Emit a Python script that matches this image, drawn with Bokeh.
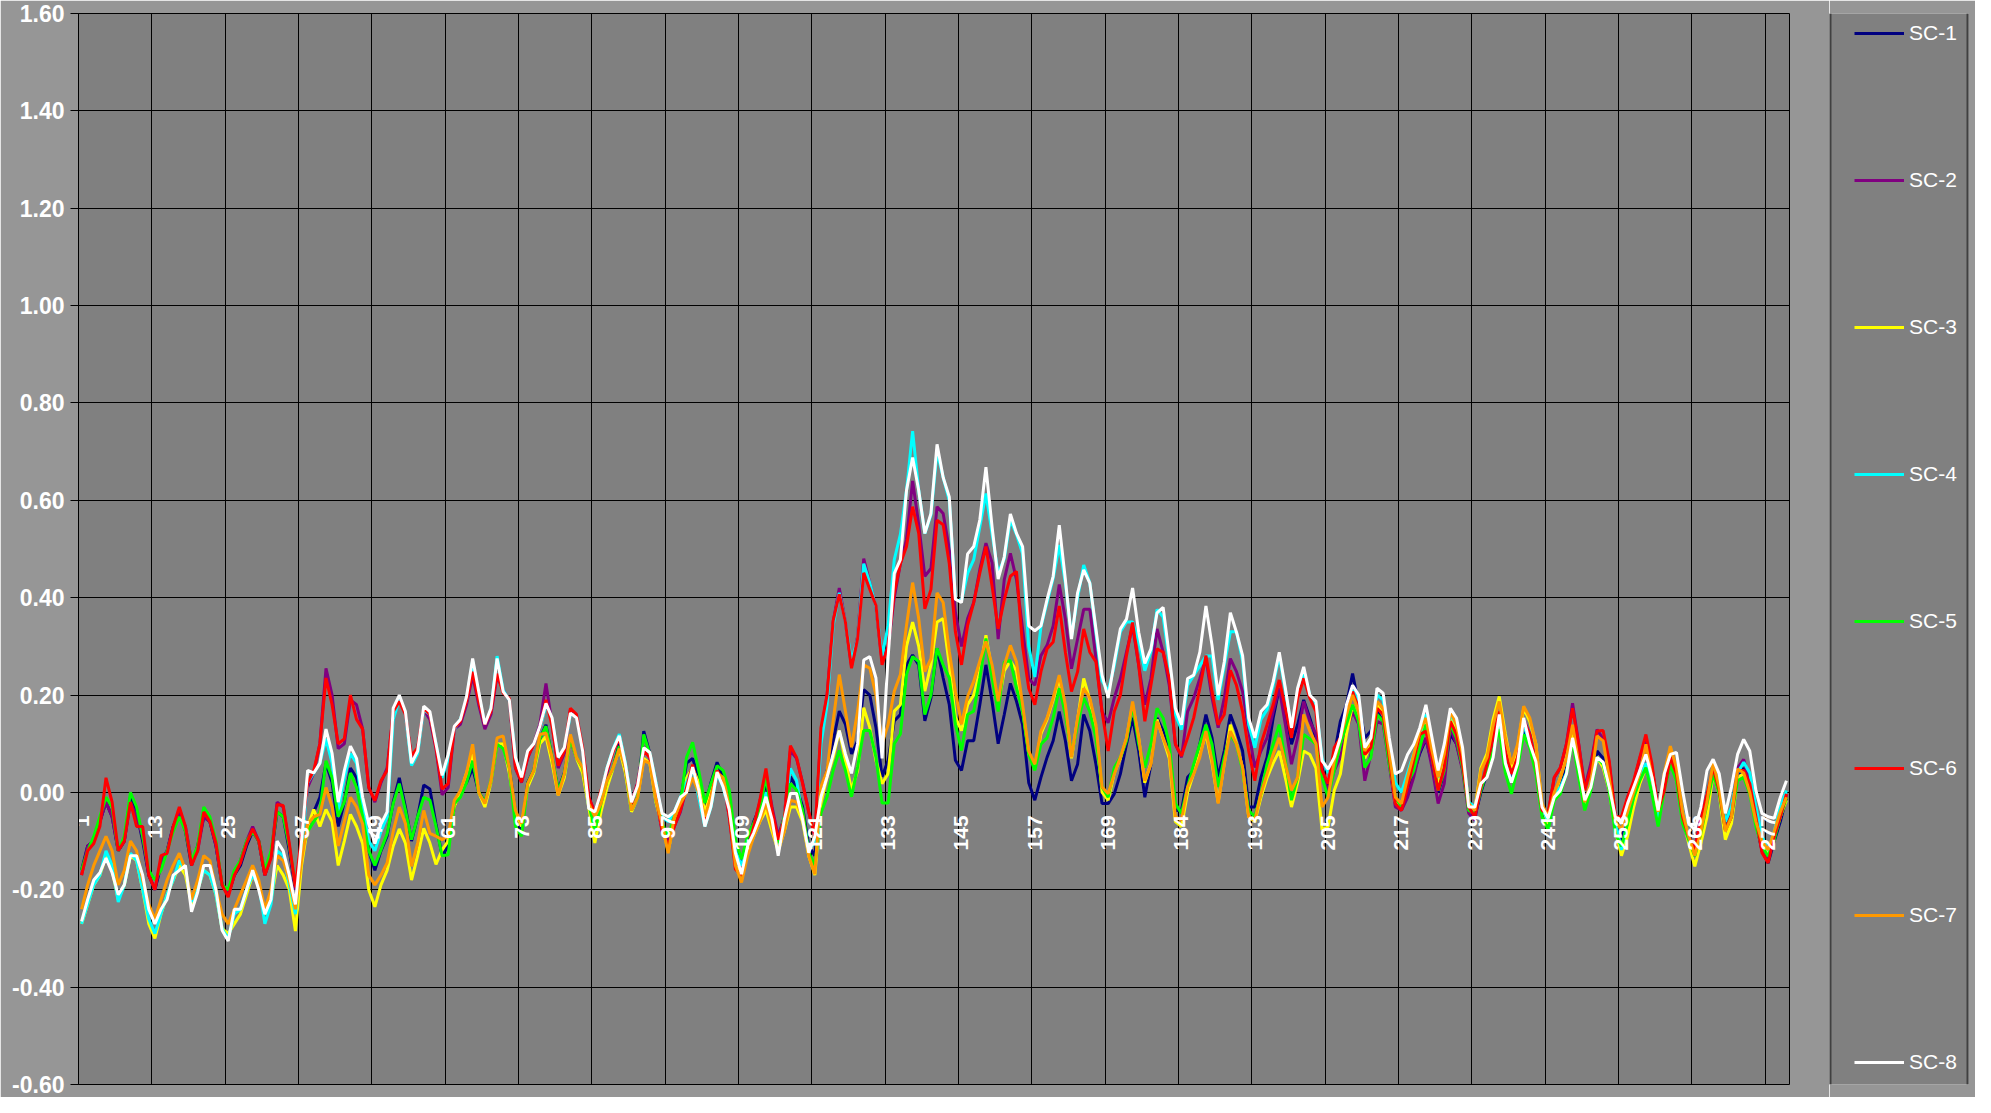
import math
from bokeh.plotting import figure
from bokeh.layouts import row
from bokeh.models import Range1d, FixedTicker, Grid, Legend, LegendItem, NumeralTickFormatter, Span
from bokeh.core.properties import value
from bokeh.embed import file_html
from bokeh.resources import INLINE

series_names = ["SC-1", "SC-2", "SC-3", "SC-4", "SC-5", "SC-6", "SC-7", "SC-8"]
series_colors = ["#000080", "#800080", "#FFFF00", "#00FFFF", "#00FF00", "#FF0000", "#FF9900", "#FFFFFF"]

tick_positions = [1, 13, 25, 37, 49, 61, 73, 85, 97, 109, 121, 133, 145, 157, 169, 181, 193, 205, 217, 229, 241, 253, 265, 277]
tick_labels = ["1", "13", "25", "37", "49", "61", "73", "85", "97", "109", "121", "133", "145", "157", "169", "184", "193", "205", "217", "229", "241", "253", "265", "277"]
y_ticks = [-0.6, -0.4, -0.2, 0.0, 0.2, 0.4, 0.6, 0.8, 1.0, 1.2, 1.4, 1.6]

sc1 = [
    -0.16, -0.11, -0.10, -0.06, -0.02, -0.05, -0.12, -0.10, -0.01, -0.04, -0.10, -0.17,
    -0.20, -0.15, -0.12, -0.07, -0.04, -0.08, -0.15, -0.11, -0.05, -0.06, -0.11, -0.19,
    -0.21, -0.17, -0.15, -0.11, -0.08, -0.10, -0.17, -0.13, -0.04, -0.05, -0.12, -0.20,
    -0.12, -0.07, -0.04, -0.01, 0.06, 0.02, -0.07, -0.02, 0.05, 0.03, -0.02, -0.12,
    -0.16, -0.12, -0.09, -0.02, 0.03, -0.03, -0.10, -0.05, 0.015, 0.007, -0.065, -0.13,
    -0.11, -0.03, 0.0, 0.02, 0.05, 0.0, -0.02, 0.02, 0.10, 0.10, 0.05, -0.04,
    -0.08, 0.02, 0.045, 0.11, 0.139, 0.07, 0.005, 0.04, 0.11, 0.07, 0.05, -0.02,
    -0.08, -0.02, 0.025, 0.05, 0.10, 0.05, -0.035, -0.01, 0.126, 0.08, -0.015, -0.065,
    -0.12, -0.05, -0.02, 0.06, 0.07, 0.03, -0.03, 0.02, 0.062, 0.03, -0.04, -0.12,
    -0.15, -0.10, -0.06, -0.03, 0.018, -0.04, -0.10, -0.05, 0.032, 0.01, -0.03, -0.11,
    -0.13, 0.005, 0.045, 0.106, 0.167, 0.14, 0.079, 0.106, 0.211, 0.20, 0.133, 0.032,
    0.066, 0.147, 0.16, 0.262, 0.282, 0.262, 0.147, 0.194, 0.296, 0.235, 0.18, 0.066,
    0.045, 0.106, 0.106, 0.18, 0.262, 0.187, 0.10, 0.16, 0.224, 0.187, 0.139, 0.02,
    -0.016, 0.031, 0.072, 0.106, 0.166, 0.106, 0.024, 0.058, 0.16, 0.126, 0.058, -0.023,
    -0.023, -0.003, 0.038, 0.099, 0.153, 0.085, -0.01, 0.058, 0.153, 0.126, 0.085, -0.037,
    -0.037, 0.031, 0.045, 0.099, 0.16, 0.112, 0.031, 0.085, 0.16, 0.126, 0.085, -0.03,
    -0.03, 0.031, 0.072, 0.153, 0.214, 0.166, 0.099, 0.139, 0.19, 0.153, 0.112, 0.051,
    0.004, 0.078, 0.146, 0.18, 0.244, 0.18, 0.112, 0.126, 0.166, 0.146, 0.072, -0.016,
    -0.03, 0.0, 0.04, 0.08, 0.11, 0.06, 0.0, 0.04, 0.12, 0.10, 0.05, -0.03,
    -0.05, 0.0, 0.04, 0.09, 0.14, 0.07, 0.03, 0.06, 0.13, 0.10, 0.05, -0.04,
    -0.06, 0.0, 0.02, 0.05, 0.12, 0.04, -0.02, 0.01, 0.085, 0.07, 0.01, -0.07,
    -0.097, -0.05, -0.01, 0.03, 0.06, 0.01, -0.05, 0.01, 0.06, 0.03, -0.05, -0.09,
    -0.12, -0.07, -0.01, 0.04, 0.01, -0.07, -0.05, 0.03, 0.05, 0.01, -0.06, -0.12,
    -0.145, -0.10, -0.06, -0.01,
]

sc2 = [
    -0.17, -0.11, -0.10, -0.06, -0.02, -0.05, -0.12, -0.10, -0.02, -0.05, -0.09, -0.17,
    -0.20, -0.14, -0.12, -0.07, -0.04, -0.07, -0.14, -0.12, -0.05, -0.06, -0.11, -0.19,
    -0.21, -0.17, -0.14, -0.10, -0.07, -0.10, -0.17, -0.13, -0.02, -0.03, -0.11, -0.20,
    -0.10, 0.01, 0.04, 0.10, 0.255, 0.20, 0.09, 0.10, 0.19, 0.18, 0.13, 0.01,
    -0.02, 0.02, 0.05, 0.16, 0.19, 0.16, 0.07, 0.09, 0.17, 0.15, 0.09, -0.005,
    0.01, 0.13, 0.14, 0.18, 0.24, 0.18, 0.13, 0.16, 0.24, 0.21, 0.19, 0.05,
    0.02, 0.07, 0.10, 0.14, 0.224, 0.14, 0.05, 0.08, 0.17, 0.16, 0.09, -0.01,
    -0.04, 0.00, 0.04, 0.09, 0.11, 0.05, -0.02, 0.02, 0.095, 0.07, -0.01, -0.08,
    -0.10, -0.07, -0.04, 0.01, 0.055, 0.0, -0.06, 0.0, 0.04, 0.02, -0.05, -0.15,
    -0.165, -0.12, -0.07, -0.02, 0.04, -0.03, -0.09, -0.05, 0.086, 0.07, 0.02, -0.04,
    -0.09, 0.12, 0.20, 0.35, 0.42, 0.35, 0.26, 0.32, 0.48, 0.43, 0.38, 0.27,
    0.30, 0.40, 0.47, 0.52, 0.64, 0.55, 0.444, 0.46, 0.587, 0.573, 0.50, 0.37,
    0.30, 0.357, 0.39, 0.458, 0.512, 0.472, 0.315, 0.437, 0.491, 0.437, 0.336, 0.234,
    0.22, 0.281, 0.302, 0.342, 0.427, 0.356, 0.254, 0.315, 0.376, 0.376, 0.275, 0.166,
    0.143, 0.194, 0.234, 0.288, 0.342, 0.261, 0.18, 0.234, 0.336, 0.288, 0.22, 0.099,
    0.072, 0.166, 0.194, 0.234, 0.275, 0.194, 0.133, 0.194, 0.275, 0.248, 0.207, 0.126,
    0.051, 0.085, 0.112, 0.166, 0.214, 0.139, 0.058, 0.112, 0.187, 0.146, 0.12, 0.038,
    0.004, 0.045, 0.072, 0.126, 0.166, 0.14, 0.024, 0.078, 0.146, 0.14, 0.058, -0.03,
    -0.037, -0.01, 0.031, 0.085, 0.112, 0.051, -0.023, 0.018, 0.133, 0.099, 0.045, -0.043,
    -0.057, 0.011, 0.05, 0.10, 0.16, 0.08, 0.035, 0.07, 0.15, 0.12, 0.055, -0.03,
    -0.045, 0.03, 0.05, 0.10, 0.183, 0.10, 0.01, 0.06, 0.129, 0.11, 0.06, -0.05,
    -0.06, -0.01, 0.02, 0.07, 0.11, 0.05, -0.03, 0.01, 0.07, 0.035, -0.05, -0.09,
    -0.115, -0.05, 0.0, 0.05, 0.01, -0.07, -0.04, 0.05, 0.068, 0.02, -0.05, -0.12,
    -0.138, -0.085, -0.05, -0.005,
]

sc3 = [
    -0.27, -0.23, -0.19, -0.17, -0.13, -0.16, -0.22, -0.19, -0.13, -0.14, -0.20, -0.27,
    -0.30, -0.25, -0.21, -0.18, -0.15, -0.17, -0.23, -0.20, -0.16, -0.17, -0.21, -0.28,
    -0.29, -0.27, -0.25, -0.21, -0.17, -0.19, -0.25, -0.22, -0.15, -0.17, -0.20, -0.285,
    -0.15, -0.07, -0.035, -0.07, -0.035, -0.06, -0.15, -0.10, -0.045, -0.07, -0.105, -0.20,
    -0.235, -0.19, -0.16, -0.11, -0.075, -0.104, -0.18, -0.13, -0.074, -0.104, -0.148, -0.118,
    -0.10, -0.03, 0.0, 0.04, 0.078, 0.0, -0.03, 0.02, 0.10, 0.10, 0.04, -0.04,
    -0.07, 0.01, 0.04, 0.10, 0.115, 0.06, -0.006, 0.03, 0.112, 0.07, 0.04, -0.03,
    -0.104, -0.04, 0.01, 0.05, 0.09, 0.04, -0.04, -0.01, 0.07, 0.06, -0.02, -0.07,
    -0.12, -0.06, -0.03, 0.03, 0.05, 0.02, -0.04, 0.0, 0.04, 0.03, -0.04, -0.15,
    -0.17, -0.12, -0.09, -0.06, -0.036, -0.08, -0.12, -0.08, -0.03, -0.03, -0.06, -0.13,
    -0.17, -0.022, 0.032, 0.072, 0.127, 0.066, 0.005, 0.045, 0.174, 0.133, 0.066, 0.018,
    0.039, 0.167, 0.18, 0.30, 0.35, 0.30, 0.208, 0.262, 0.35, 0.357, 0.262, 0.154,
    0.127, 0.18, 0.20, 0.248, 0.323, 0.248, 0.18, 0.25, 0.27, 0.25, 0.17, 0.08,
    0.05, 0.12, 0.15, 0.19, 0.234, 0.17, 0.07, 0.15, 0.234, 0.19, 0.13, 0.0,
    -0.016, 0.04, 0.07, 0.11, 0.18, 0.11, 0.02, 0.06, 0.15, 0.11, 0.07, -0.06,
    -0.07, 0.0, 0.04, 0.08, 0.12, 0.06, -0.02, 0.06, 0.139, 0.10, 0.05, -0.05,
    -0.06, -0.01, 0.03, 0.06, 0.085, 0.03, -0.03, 0.02, 0.085, 0.078, 0.05, -0.077,
    -0.07, 0.004, 0.038, 0.12, 0.18, 0.15, 0.07, 0.10, 0.18, 0.16, 0.07, -0.02,
    -0.03, 0.02, 0.07, 0.12, 0.15, 0.08, 0.02, 0.07, 0.16, 0.13, 0.07, -0.02,
    -0.035, 0.05, 0.08, 0.15, 0.197, 0.12, 0.051, 0.092, 0.173, 0.146, 0.099, -0.03,
    -0.064, -0.01, 0.031, 0.072, 0.119, 0.058, -0.03, 0.018, 0.072, 0.051, 0.004, -0.077,
    -0.13, -0.09, -0.03, 0.018, 0.051, 0.004, -0.05, 0.018, 0.058, 0.031, -0.05, -0.104,
    -0.152, -0.104, -0.05, 0.038, -0.003, -0.097, -0.064, 0.031, 0.038, 0.004, -0.064, -0.111,
    -0.124, -0.09, -0.05, -0.016,
]

sc4 = [
    -0.27, -0.23, -0.19, -0.17, -0.12, -0.15, -0.225, -0.19, -0.125, -0.14, -0.20, -0.26,
    -0.29, -0.25, -0.21, -0.18, -0.14, -0.16, -0.225, -0.20, -0.16, -0.17, -0.21, -0.28,
    -0.30, -0.25, -0.24, -0.20, -0.17, -0.19, -0.27, -0.23, -0.12, -0.13, -0.19, -0.25,
    -0.12, 0.02, 0.04, 0.06, 0.11, 0.06, -0.04, 0.03, 0.08, 0.06, -0.03, -0.10,
    -0.12, -0.08, -0.05, 0.15, 0.19, 0.16, 0.055, 0.08, 0.17, 0.16, 0.10, 0.03,
    0.07, 0.13, 0.15, 0.19, 0.27, 0.20, 0.14, 0.17, 0.28, 0.21, 0.19, 0.07,
    0.03, 0.08, 0.10, 0.13, 0.18, 0.15, 0.07, 0.09, 0.16, 0.16, 0.09, -0.03,
    -0.04, 0.0, 0.05, 0.09, 0.12, 0.06, -0.02, 0.01, 0.09, 0.08, 0.02, -0.05,
    -0.06, -0.04, -0.01, 0.02, 0.05, -0.01, -0.07, -0.03, 0.04, 0.01, -0.04, -0.12,
    -0.15, -0.11, -0.08, -0.05, 0.0, -0.056, -0.12, -0.05, 0.049, 0.025, -0.05, -0.12,
    -0.10, 0.10, 0.18, 0.343, 0.41, 0.35, 0.27, 0.316, 0.47, 0.43, 0.38, 0.28,
    0.343, 0.478, 0.53, 0.62, 0.742, 0.62, 0.532, 0.57, 0.70, 0.647, 0.60, 0.397,
    0.394, 0.45, 0.478, 0.546, 0.614, 0.532, 0.45, 0.48, 0.56, 0.53, 0.49, 0.30,
    0.237, 0.34, 0.39, 0.44, 0.508, 0.43, 0.32, 0.40, 0.467, 0.43, 0.33, 0.23,
    0.207, 0.26, 0.33, 0.35, 0.35, 0.31, 0.25, 0.29, 0.376, 0.36, 0.27, 0.16,
    0.129, 0.22, 0.24, 0.26, 0.28, 0.28, 0.19, 0.26, 0.33, 0.33, 0.27, 0.14,
    0.092, 0.15, 0.17, 0.22, 0.28, 0.21, 0.13, 0.20, 0.25, 0.20, 0.18, 0.07,
    0.04, 0.07, 0.11, 0.17, 0.21, 0.19, 0.09, 0.11, 0.20, 0.19, 0.10, 0.02,
    0.0, 0.04, 0.08, 0.12, 0.16, 0.10, 0.03, 0.08, 0.16, 0.14, 0.08, -0.02,
    -0.03, 0.02, 0.04, 0.08, 0.15, 0.07, 0.02, 0.06, 0.14, 0.10, 0.05, -0.03,
    -0.06, 0.0, 0.01, 0.04, 0.11, 0.04, -0.02, 0.01, 0.07, 0.06, 0.01, -0.06,
    -0.118, -0.06, -0.01, 0.03, 0.06, 0.02, -0.06, 0.02, 0.06, 0.03, -0.04, -0.09,
    -0.12, -0.07, 0.0, 0.05, 0.02, -0.06, -0.03, 0.04, 0.062, 0.04, -0.03, -0.09,
    -0.12, -0.08, -0.03, 0.004,
]

sc5 = [
    -0.16, -0.12, -0.09, -0.05, -0.01, -0.03, -0.12, -0.09, 0.00, -0.03, -0.09, -0.16,
    -0.18, -0.16, -0.12, -0.08, -0.05, -0.08, -0.14, -0.11, -0.03, -0.05, -0.10, -0.19,
    -0.20, -0.16, -0.14, -0.10, -0.08, -0.10, -0.16, -0.12, -0.04, -0.05, -0.11, -0.19,
    -0.12, -0.08, -0.06, -0.04, 0.065, 0.03, -0.05, -0.02, 0.04, 0.01, -0.05, -0.12,
    -0.15, -0.118, -0.085, -0.023, 0.018, -0.037, -0.097, -0.05, -0.01, -0.016, -0.07, -0.13,
    -0.128, -0.023, -0.01, 0.02, 0.065, 0.0, -0.02, 0.024, 0.099, 0.09, 0.05, -0.07,
    -0.09, 0.018, 0.045, 0.11, 0.136, 0.072, 0.004, 0.038, 0.11, 0.072, 0.05, -0.023,
    -0.08, -0.023, 0.024, 0.051, 0.095, 0.051, -0.037, -0.01, 0.119, 0.078, -0.016, -0.064,
    -0.09, -0.05, -0.023, 0.072, 0.103, 0.045, -0.022, 0.018, 0.055, 0.045, 0.005, -0.097,
    -0.137, -0.09, -0.063, -0.036, 0.032, -0.05, -0.104, -0.05, 0.018, 0.005, -0.036, -0.124,
    -0.15, -0.043, -0.009, 0.045, 0.086, 0.045, -0.009, 0.052, 0.127, 0.127, 0.072, -0.022,
    -0.022, 0.10, 0.12, 0.242, 0.279, 0.269, 0.16, 0.20, 0.296, 0.262, 0.235, 0.14,
    0.086, 0.16, 0.167, 0.235, 0.316, 0.235, 0.166, 0.268, 0.271, 0.214, 0.166, 0.078,
    0.045, 0.099, 0.112, 0.153, 0.214, 0.16, 0.078, 0.139, 0.194, 0.166, 0.112, 0.011,
    -0.01, 0.051, 0.072, 0.106, 0.18, 0.099, 0.051, 0.099, 0.173, 0.153, 0.099, -0.023,
    -0.043, 0.011, 0.058, 0.099, 0.139, 0.099, 0.011, 0.072, 0.119, 0.099, 0.045, -0.037,
    -0.05, -0.003, 0.058, 0.099, 0.139, 0.065, -0.016, 0.031, 0.119, 0.11, 0.099, 0.031,
    -0.01, 0.045, 0.099, 0.14, 0.18, 0.146, 0.051, 0.072, 0.16, 0.146, 0.058, -0.01,
    -0.03, 0.018, 0.045, 0.092, 0.14, 0.072, 0.004, 0.045, 0.14, 0.112, 0.051, -0.037,
    -0.043, 0.004, 0.045, 0.085, 0.13, 0.04, -0.003, 0.051, 0.119, 0.092, 0.038, -0.05,
    -0.077, -0.016, -0.003, 0.038, 0.106, 0.031, -0.037, 0.004, 0.072, 0.058, 0.004, -0.084,
    -0.111, -0.064, -0.01, 0.024, 0.051, -0.003, -0.07, 0.004, 0.058, 0.024, -0.064, -0.097,
    -0.131, -0.084, -0.023, 0.038, -0.003, -0.077, -0.05, 0.024, 0.031, -0.003, -0.07, -0.111,
    -0.131, -0.097, -0.05, -0.01,
]

sc6 = [
    -0.17, -0.12, -0.105, -0.07, 0.03, -0.02, -0.12, -0.10, -0.02, -0.07, -0.07, -0.17,
    -0.20, -0.13, -0.125, -0.07, -0.03, -0.07, -0.15, -0.12, -0.04, -0.06, -0.105, -0.19,
    -0.215, -0.17, -0.145, -0.105, -0.075, -0.10, -0.17, -0.135, -0.025, -0.027, -0.105, -0.195,
    -0.09, 0.02, 0.045, 0.10, 0.235, 0.18, 0.10, 0.11, 0.20, 0.15, 0.13, 0.01,
    -0.017, 0.024, 0.045, 0.166, 0.187, 0.16, 0.075, 0.092, 0.173, 0.16, 0.092, 0.007,
    0.018, 0.133, 0.146, 0.187, 0.248, 0.187, 0.14, 0.166, 0.244, 0.204, 0.193, 0.051,
    0.021, 0.072, 0.099, 0.133, 0.19, 0.136, 0.055, 0.085, 0.173, 0.16, 0.092, -0.01,
    -0.043, 0.004, 0.045, 0.085, 0.112, 0.051, -0.023, 0.018, 0.085, 0.072, -0.01, -0.077,
    -0.11, -0.07, -0.037, 0.01, 0.057, 0.0, -0.057, -0.01, 0.045, 0.025, -0.05, -0.158,
    -0.171, -0.117, -0.07, -0.016, 0.049, -0.036, -0.097, -0.056, 0.096, 0.072, 0.018, -0.04,
    -0.09, 0.133, 0.20, 0.353, 0.407, 0.35, 0.255, 0.316, 0.451, 0.417, 0.384, 0.262,
    0.30, 0.41, 0.47, 0.505, 0.587, 0.532, 0.377, 0.417, 0.559, 0.55, 0.47, 0.33,
    0.262, 0.343, 0.39, 0.451, 0.505, 0.424, 0.336, 0.396, 0.444, 0.454, 0.30, 0.214,
    0.18, 0.248, 0.295, 0.309, 0.383, 0.288, 0.207, 0.248, 0.336, 0.288, 0.268, 0.166,
    0.085, 0.166, 0.20, 0.281, 0.349, 0.261, 0.146, 0.22, 0.295, 0.288, 0.234, 0.099,
    0.075, 0.112, 0.153, 0.214, 0.281, 0.207, 0.139, 0.16, 0.251, 0.22, 0.166, 0.085,
    0.024, 0.099, 0.139, 0.18, 0.231, 0.173, 0.112, 0.194, 0.234, 0.194, 0.166, 0.045,
    0.018, 0.092, 0.112, 0.166, 0.207, 0.173, 0.078, 0.092, 0.173, 0.16, 0.072, -0.023,
    -0.037, 0.011, 0.065, 0.119, 0.126, 0.072, 0.004, 0.051, 0.146, 0.119, 0.058, -0.03,
    -0.05, 0.011, 0.058, 0.112, 0.166, 0.085, 0.038, 0.072, 0.146, 0.119, 0.058, -0.037,
    -0.043, 0.031, 0.051, 0.099, 0.173, 0.099, 0.004, 0.051, 0.126, 0.127, 0.065, -0.05,
    -0.05, -0.01, 0.024, 0.072, 0.119, 0.058, -0.037, 0.004, 0.072, 0.038, -0.05, -0.09,
    -0.118, -0.057, -0.003, 0.051, 0.004, -0.077, -0.05, 0.045, 0.045, 0.018, -0.05, -0.124,
    -0.145, -0.09, -0.05, -0.003,
]

sc7 = [
    -0.24, -0.19, -0.15, -0.12, -0.09, -0.12, -0.19, -0.16, -0.10, -0.12, -0.18, -0.23,
    -0.26, -0.22, -0.18, -0.15, -0.125, -0.16, -0.22, -0.18, -0.13, -0.14, -0.20, -0.25,
    -0.27, -0.24, -0.21, -0.18, -0.15, -0.18, -0.24, -0.20, -0.13, -0.14, -0.18, -0.24,
    -0.14, -0.065, -0.05, -0.045, 0.01, -0.03, -0.11, -0.06, -0.01, -0.03, -0.065, -0.17,
    -0.19, -0.17, -0.145, -0.08, -0.03, -0.064, -0.152, -0.104, -0.037, -0.084, -0.09, -0.097,
    -0.09, -0.016, 0.004, 0.04, 0.099, 0.0, -0.023, 0.024, 0.112, 0.116, 0.05, -0.037,
    -0.064, 0.018, 0.045, 0.119, 0.122, 0.072, -0.006, 0.038, 0.119, 0.072, 0.051, -0.023,
    -0.05, -0.023, 0.024, 0.051, 0.09, 0.051, -0.037, -0.01, 0.065, 0.06, -0.016, -0.064,
    -0.125, -0.05, -0.023, 0.0, 0.03, 0.0, -0.05, -0.01, 0.04, 0.03, -0.03, -0.15,
    -0.185, -0.13, -0.09, -0.06, -0.022, -0.07, -0.12, -0.08, -0.016, -0.02, -0.05, -0.13,
    -0.168, 0.011, 0.045, 0.147, 0.242, 0.167, 0.093, 0.167, 0.262, 0.255, 0.20, 0.10,
    0.14, 0.208, 0.242, 0.343, 0.431, 0.357, 0.248, 0.275, 0.41, 0.39, 0.29, 0.208,
    0.14, 0.197, 0.228, 0.27, 0.31, 0.262, 0.187, 0.261, 0.302, 0.268, 0.18, 0.085,
    0.058, 0.126, 0.153, 0.194, 0.241, 0.18, 0.072, 0.153, 0.214, 0.194, 0.139, 0.011,
    -0.003, 0.038, 0.072, 0.112, 0.187, 0.112, 0.024, 0.058, 0.146, 0.112, 0.078, -0.05,
    -0.057, 0.011, 0.038, 0.072, 0.126, 0.065, -0.023, 0.058, 0.126, 0.099, 0.051, -0.05,
    -0.057, -0.003, 0.038, 0.078, 0.112, 0.058, 0.004, 0.031, 0.16, 0.126, 0.10, -0.03,
    -0.01, 0.065, 0.112, 0.16, 0.20, 0.166, 0.085, 0.112, 0.187, 0.173, 0.085, -0.01,
    -0.023, 0.031, 0.078, 0.126, 0.153, 0.085, 0.031, 0.078, 0.166, 0.139, 0.078, -0.023,
    -0.037, 0.045, 0.072, 0.139, 0.187, 0.112, 0.058, 0.099, 0.177, 0.153, 0.099, -0.023,
    -0.05, 0.0, 0.03, 0.07, 0.139, 0.06, -0.02, 0.02, 0.116, 0.106, 0.03, -0.06,
    -0.077, -0.04, 0.0, 0.04, 0.099, 0.03, -0.04, 0.04, 0.095, 0.05, -0.04, -0.09,
    -0.13, -0.08, -0.02, 0.062, 0.01, -0.08, -0.05, 0.048, 0.04, 0.0, -0.06, -0.10,
    -0.118, -0.08, -0.04, -0.01,
]

sc8 = [
    -0.265, -0.22, -0.18, -0.165, -0.135, -0.165, -0.21, -0.19, -0.13, -0.13, -0.17, -0.24,
    -0.27, -0.24, -0.22, -0.17, -0.16, -0.15, -0.245, -0.205, -0.15, -0.15, -0.20, -0.283,
    -0.305, -0.24, -0.24, -0.20, -0.16, -0.20, -0.25, -0.22, -0.10, -0.12, -0.17, -0.23,
    -0.10, 0.045, 0.04, 0.06, 0.13, 0.08, -0.02, 0.045, 0.095, 0.07, -0.01, -0.065,
    -0.105, -0.065, -0.04, 0.173, 0.20, 0.166, 0.06, 0.085, 0.177, 0.166, 0.10, 0.035,
    0.078, 0.136, 0.15, 0.197, 0.275, 0.207, 0.14, 0.173, 0.275, 0.207, 0.19, 0.072,
    0.031, 0.085, 0.10, 0.136, 0.183, 0.153, 0.072, 0.092, 0.163, 0.153, 0.085, -0.033,
    -0.04, 0.0, 0.05, 0.089, 0.116, 0.058, -0.02, 0.014, 0.092, 0.082, 0.018, -0.043,
    -0.05, -0.04, -0.01, 0.0, 0.052, 0.005, -0.07, -0.029, 0.042, 0.011, -0.036, -0.124,
    -0.168, -0.11, -0.083, -0.05, -0.009, -0.056, -0.13, -0.056, -0.002, -0.002, -0.056, -0.124,
    -0.09, -0.009, 0.032, 0.079, 0.127, 0.079, 0.039, 0.10, 0.272, 0.279, 0.235, 0.07,
    0.28, 0.45, 0.478, 0.62, 0.688, 0.62, 0.532, 0.573, 0.715, 0.647, 0.607, 0.397,
    0.39, 0.49, 0.505, 0.56, 0.668, 0.546, 0.438, 0.484, 0.572, 0.532, 0.505, 0.342,
    0.332, 0.342, 0.396, 0.444, 0.549, 0.437, 0.315, 0.41, 0.457, 0.43, 0.336, 0.241,
    0.194, 0.268, 0.336, 0.356, 0.42, 0.329, 0.265, 0.295, 0.369, 0.38, 0.281, 0.173,
    0.139, 0.234, 0.241, 0.288, 0.383, 0.302, 0.20, 0.268, 0.369, 0.329, 0.281, 0.153,
    0.112, 0.166, 0.18, 0.227, 0.288, 0.214, 0.133, 0.214, 0.258, 0.20, 0.187, 0.065,
    0.048, 0.072, 0.112, 0.18, 0.22, 0.20, 0.092, 0.112, 0.214, 0.204, 0.112, 0.038,
    0.045, 0.078, 0.099, 0.133, 0.18, 0.112, 0.045, 0.099, 0.173, 0.153, 0.092, -0.03,
    -0.03, 0.018, 0.031, 0.072, 0.16, 0.06, 0.02, 0.06, 0.153, 0.10, 0.063, -0.03,
    -0.053, -0.01, 0.004, 0.038, 0.112, 0.051, -0.016, 0.011, 0.072, 0.062, 0.011, -0.05,
    -0.064, -0.023, 0.011, 0.045, 0.078, 0.031, -0.037, 0.038, 0.078, 0.082, 0.004, -0.064,
    -0.077, -0.03, 0.045, 0.068, 0.038, -0.043, 0.011, 0.078, 0.109, 0.085, 0.004, -0.043,
    -0.05, -0.053, -0.01, 0.024,
]

all_series = [sc1, sc2, sc3, sc4, sc5, sc6, sc7, sc8]
n_categories = max(len(s) for s in all_series)

FONT = "Liberation Sans"
OUTER = "#969696"
PLOT_BG = "#808080"

# ---------------- main chart ----------------
p = figure(
    width=1829, height=1097,
    output_backend="svg", toolbar_location=None,
    x_range=Range1d(0.5, n_categories + 0.5),
    y_range=Range1d(y_ticks[0], y_ticks[-1]),
    x_axis_location=None,
    min_border_left=78, min_border_right=40, min_border_top=13, min_border_bottom=13,
    background_fill_color=PLOT_BG, border_fill_color=OUTER,
    outline_line_color="black", outline_line_width=1,
)

p.yaxis.ticker = FixedTicker(ticks=y_ticks)
p.yaxis.formatter = NumeralTickFormatter(format="0.00")
p.yaxis.axis_line_color = "black"
p.yaxis.major_tick_line_color = "black"
p.yaxis.major_tick_out = 8
p.yaxis.major_tick_in = 0
p.yaxis.minor_tick_line_color = None
p.yaxis.major_label_standoff = 6
p.yaxis.major_label_text_color = "white"
p.yaxis.major_label_text_font = FONT
p.yaxis.major_label_text_font_style = "bold"
p.yaxis.major_label_text_font_size = "23px"

p.ygrid.ticker = FixedTicker(ticks=y_ticks)
p.ygrid.grid_line_color = "black"
p.ygrid.grid_line_width = 1
for g in p.xgrid:
    g.grid_line_color = None
boundaries = [t - 0.5 for t in tick_positions[1:]]
p.add_layout(Grid(dimension=0, ticker=FixedTicker(ticks=boundaries),
                  grid_line_color="black", grid_line_width=1))

for name, color, vals in zip(series_names, series_colors, all_series):
    xs = list(range(1, len(vals) + 1))
    p.line(xs, vals, line_color=color, line_width=3)

# category labels hanging below the axis that crosses at zero
p.text(x=tick_positions, y=[0.0] * len(tick_positions), text=tick_labels,
       angle=math.pi / 2, text_align="right", text_baseline="middle",
       y_offset=23, text_color="white", text_font=value(FONT),
       text_font_style="bold", text_font_size="21px")

# ---------------- legend panel ----------------
leg = figure(
    width=146, height=1097,
    output_backend="svg", toolbar_location=None,
    x_range=Range1d(0, 1), y_range=Range1d(10, 11),
    x_axis_location=None, y_axis_location=None,
    min_border_left=0, min_border_right=7, min_border_top=0, min_border_bottom=0,
    background_fill_color=PLOT_BG, border_fill_color=OUTER,
    outline_line_color=None,
)
leg.grid.visible = False
leg.add_layout(Span(location=0, dimension="height", line_color="#404040", line_width=4))
leg.add_layout(Span(location=1, dimension="height", line_color="#404040", line_width=4))

items = []
for name, color, vals in zip(series_names, series_colors, all_series):
    xs = list(range(1, len(vals) + 1))
    r = leg.line(xs, vals, line_color=color, line_width=3)
    items.append(LegendItem(label=name, renderers=[r]))

legend = Legend(
    items=items, location=(25, 10), orientation="vertical",
    background_fill_alpha=0.0, border_line_color=None,
    label_text_color="white", label_text_font=FONT,
    label_text_font_size="21px",
    glyph_width=50, glyph_height=24, label_height=24,
    label_standoff=5, padding=19, spacing=123, margin=0,
)
leg.add_layout(legend)

layout = row(p, leg, spacing=0)
open("out.html", "w").write(file_html(layout, INLINE))
